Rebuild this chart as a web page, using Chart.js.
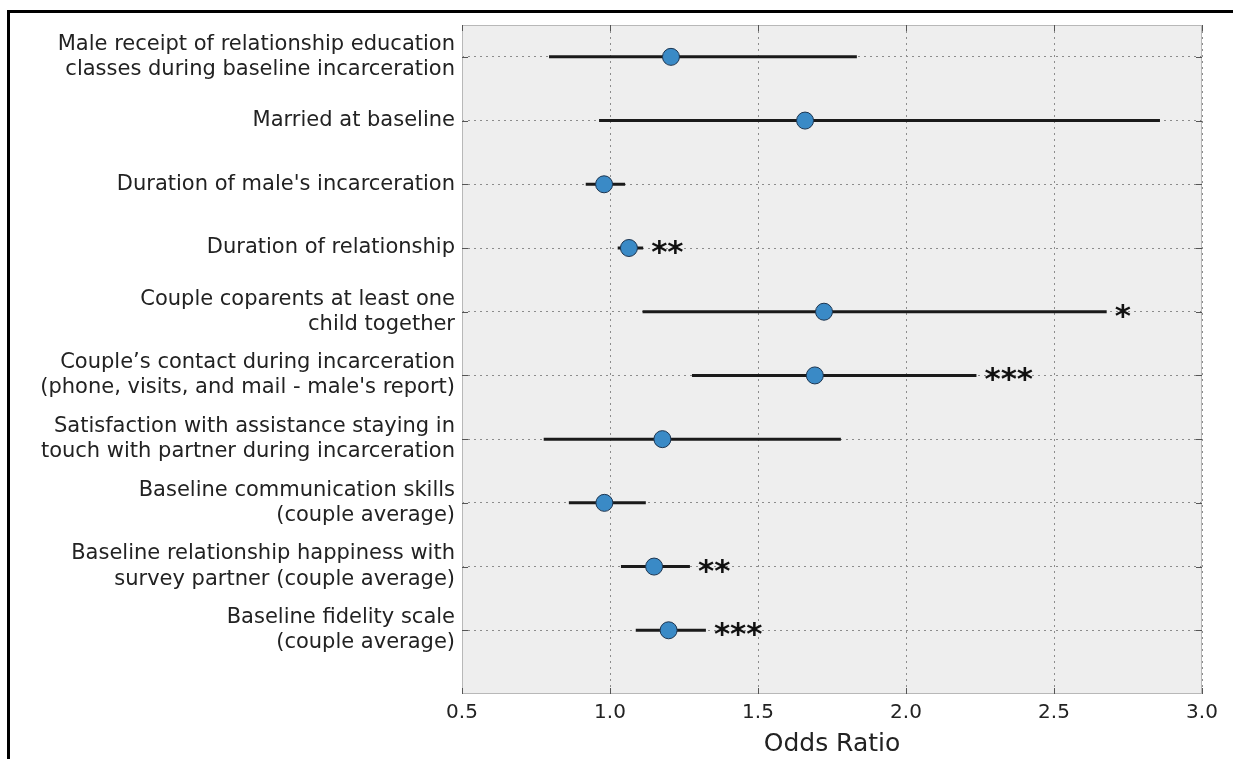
<!DOCTYPE html>
<html>
<head>
<meta charset="utf-8">
<script src="https://cdn.jsdelivr.net/npm/chart.js@4.4.1/dist/chart.umd.min.js"></script>
<style>
  html, body { margin: 0; padding: 0; background: #fff; }
  #wrap { position: relative; width: 1233px; height: 759px; overflow: hidden; }
  #frame {
    position: absolute; left: 7px; top: 10px; right: 0; bottom: 0;
    border-top: 3px solid #000; border-left: 3px solid #000;
    pointer-events: none;
  }
</style>
</head>
<body>
<div id="wrap">
  <canvas id="chart" width="1233" height="759"></canvas>
  <div id="frame"></div>
</div>
<script>
// Odds ratios with confidence intervals, top row first.
const rowLabels = [
  ['Male receipt of relationship education', 'classes during baseline incarceration'],
  'Married at baseline',
  "Duration of male's incarceration",
  'Duration of relationship',
  ['Couple coparents at least one', 'child together'],
  ['Couple\u2019s contact during incarceration', "(phone, visits, and mail - male's report)"],
  ['Satisfaction with assistance staying in', 'touch with partner during incarceration'],
  ['Baseline communication skills', '(couple average)'],
  ['Baseline relationship happiness with', 'survey partner (couple average)'],
  ['Baseline fidelity scale', '(couple average)'],
];
const oddsRatio = [1.206, 1.659, 0.980, 1.064, 1.723, 1.692, 1.177, 0.981, 1.149, 1.198];
const ciLow     = [0.794, 0.963, 0.918, 1.026, 1.110, 1.277, 0.776, 0.861, 1.037, 1.087];
const ciHigh    = [1.834, 2.858, 1.051, 1.112, 2.678, 2.238, 1.780, 1.121, 1.270, 1.324];
const stars     = ['', '', '', '**', '*', '***', '', '', '**', '***'];
const xTicks    = [0.5, 1.0, 1.5, 2.0, 2.5, 3.0];

const FONT = '"DejaVu Sans", "Liberation Sans", sans-serif';
const INK = '#222';

// one short black segment per row for the CI
const ciSets = rowLabels.map((_, i) => ({
  type: 'line',
  data: [{ x: ciLow[i], y: i }, { x: ciHigh[i], y: i }],
  borderColor: '#1a1a1a',
  borderWidth: 3,
  pointRadius: 0,
  order: 1,
}));

const plotDecor = {
  id: 'plotDecor',
  beforeDraw(chart) {
    const { ctx, chartArea: a } = chart;
    ctx.save();
    ctx.fillStyle = '#eeeeee';
    ctx.fillRect(a.left, a.top, a.right - a.left, a.bottom - a.top);
    ctx.restore();
  },
  afterDraw(chart) {
    const { ctx, chartArea: a, scales } = chart;
    ctx.save();
    // axes frame
    ctx.strokeStyle = '#b8b8b8';
    ctx.lineWidth = 1;
    ctx.strokeRect(a.left + 0.5, a.top + 0.5, a.right - a.left - 1, a.bottom - a.top - 1);
    // inward tick marks
    ctx.strokeStyle = '#555';
    ctx.beginPath();
    scales.x.ticks.forEach((t, i) => {
      const px = Math.round(scales.x.getPixelForTick(i)) + 0.5;
      ctx.moveTo(px, a.top); ctx.lineTo(px, a.top + 6);
      ctx.moveTo(px, a.bottom); ctx.lineTo(px, a.bottom - 6);
    });
    scales.y.ticks.forEach((t, i) => {
      const py = Math.round(scales.y.getPixelForTick(i)) + 0.5;
      ctx.moveTo(a.left, py); ctx.lineTo(a.left + 6, py);
      ctx.moveTo(a.right, py); ctx.lineTo(a.right - 6, py);
    });
    ctx.stroke();
    ctx.restore();
  },
};

const starLabels = {
  id: 'starLabels',
  afterDatasetsDraw(chart) {
    const { ctx, scales } = chart;
    ctx.save();
    ctx.font = 'bold 31px ' + FONT;
    ctx.fillStyle = '#111';
    ctx.textAlign = 'left';
    ctx.textBaseline = 'alphabetic';
    stars.forEach((s, i) => {
      if (!s) return;
      const x = scales.x.getPixelForValue(ciHigh[i]) + 8;
      const y = scales.y.getPixelForValue(i);
      ctx.fillText(s, x, y + 14);
    });
    ctx.restore();
  },
};

new Chart(document.getElementById('chart'), {
  type: 'scatter',
  data: {
    datasets: [
      {
        type: 'scatter',
        data: oddsRatio.map((v, i) => ({ x: v, y: i })),
        pointRadius: 8.5,
        pointBackgroundColor: '#3a8ac6',
        pointBorderColor: '#1d3550',
        pointBorderWidth: 1,
        order: 0,
      },
      ...ciSets,
    ],
  },
  options: {
    responsive: false,
    animation: false,
    layout: { padding: { top: 25, right: 31, left: 0, bottom: 0 } },
    plugins: { legend: { display: false }, tooltip: { enabled: false } },
    scales: {
      x: {
        type: 'linear',
        min: 0.5,
        max: 3.0,
        afterBuildTicks: (s) => { s.ticks = xTicks.map((v) => ({ value: v })); },
        afterFit: (s) => { s.height = 65; s.paddingLeft = 0; s.paddingRight = 0; },
        grid: { color: '#8c8c8c', lineWidth: 1, drawTicks: false },
        border: { display: false, dash: [2, 4] },
        ticks: {
          padding: 7,
          color: INK,
          font: { family: FONT, size: 20 },
          callback: (v) => Number(v).toFixed(1),
        },
        title: {
          display: true,
          text: 'Odds Ratio',
          color: INK,
          font: { family: FONT, size: 25 },
          padding: { top: 0, bottom: 0 },
        },
      },
      y: {
        type: 'linear',
        reverse: true,
        min: -0.5,
        max: 10,
        afterBuildTicks: (s) => { s.ticks = rowLabels.map((_, i) => ({ value: i })); },
        afterFit: (s) => { s.width = 462; s.paddingTop = 0; s.paddingBottom = 0; },
        grid: { color: '#8c8c8c', lineWidth: 1, drawTicks: false },
        border: { display: false, dash: [2, 4] },
        ticks: {
          padding: 7,
          color: INK,
          font: { family: FONT, size: 21, lineHeight: 1.2 },
          callback: (v) => rowLabels[v],
        },
      },
    },
  },
  plugins: [plotDecor, starLabels],
});
</script>
</body>
</html>
